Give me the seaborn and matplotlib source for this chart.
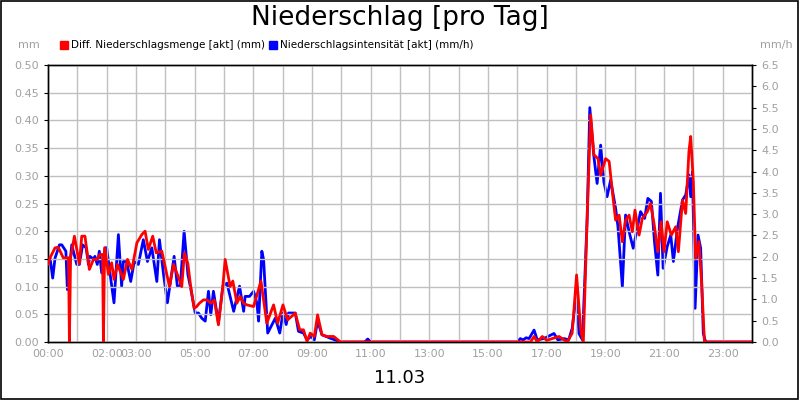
import matplotlib
matplotlib.use("Agg")
import matplotlib.pyplot as plt
import seaborn as sns
import pandas as pd

sns.set_style("white")
plt.rcParams['font.family'] = ['DejaVu Sans']
plt.rcParams['text.color'] = 'black'

# Diff. Niederschlagsmenge (mm) - hours of day
red_t = [0.0,0.07,0.24,0.35,0.52,0.64,0.70,0.73,0.77,0.90,1.07,1.15,1.26,1.41,1.55,1.68,1.77,1.86,1.89,1.93,2.06,2.17,2.25,2.37,2.57,2.71,2.86,3.03,3.20,3.31,3.42,3.57,3.69,3.88,4.14,4.28,4.41,4.56,4.65,4.77,4.85,4.98,5.07,5.16,5.30,5.42,5.55,5.67,5.81,5.96,6.04,6.21,6.30,6.44,6.55,6.67,6.78,7.01,7.26,7.46,7.69,7.83,8.01,8.17,8.43,8.58,8.71,8.83,8.94,9.08,9.19,9.34,9.51,9.74,9.97,
         16.45,16.57,16.68,16.85,17.0,17.42,17.70,17.87,18.02,18.16,18.25,18.38,18.50,18.61,18.75,18.84,19.01,19.13,19.24,19.35,19.47,19.58,19.69,19.81,19.92,20.01,20.15,20.26,20.43,20.54,20.66,20.79,20.90,21.00,21.11,21.25,21.40,21.49,21.63,21.74,21.85,21.91,22.00,22.08,22.19,22.28,22.38,24.0]
red_v = [0.14,0.152,0.170,0.171,0.152,0.152,0.152,0.0,0.152,0.191,0.141,0.191,0.191,0.131,0.149,0.149,0.158,0.158,0.0,0.170,0.122,0.143,0.113,0.140,0.113,0.149,0.131,0.179,0.194,0.200,0.167,0.191,0.161,0.164,0.100,0.140,0.122,0.100,0.161,0.141,0.106,0.061,0.064,0.070,0.076,0.076,0.070,0.076,0.031,0.100,0.149,0.100,0.110,0.070,0.082,0.070,0.067,0.064,0.110,0.034,0.067,0.034,0.067,0.040,0.052,0.022,0.022,0.001,0.016,0.010,0.049,0.013,0.010,0.010,0.0,
         0.0,0.01,0.0,0.01,0.003,0.01,0.0,0.016,0.121,0.022,0.0,0.223,0.41,0.338,0.331,0.301,0.331,0.326,0.271,0.22,0.229,0.181,0.22,0.229,0.199,0.238,0.193,0.223,0.235,0.25,0.214,0.163,0.217,0.163,0.217,0.193,0.208,0.163,0.256,0.232,0.344,0.371,0.289,0.151,0.181,0.109,0.0,0.0]

# Niederschlagsintensität (mm/h)
blue_t = [0.0,0.07,0.16,0.24,0.39,0.47,0.61,0.66,0.81,0.98,1.07,1.18,1.30,1.38,1.43,1.55,1.60,1.68,1.75,1.83,1.95,2.00,2.12,2.25,2.40,2.51,2.57,2.68,2.82,2.94,3.08,3.25,3.39,3.54,3.71,3.80,3.94,4.07,4.30,4.41,4.51,4.64,4.77,4.85,5.02,5.13,5.24,5.36,5.47,5.55,5.64,5.81,5.96,6.10,6.33,6.53,6.67,6.72,6.87,7.01,7.12,7.18,7.29,7.35,7.49,7.75,7.90,8.01,8.12,8.20,8.43,8.54,8.71,8.83,8.96,9.08,9.19,9.34,9.62,9.97,10.8,10.9,11.0,
          16.0,16.1,16.2,16.3,16.4,16.57,16.68,16.9,17.25,17.38,17.6,17.75,17.87,18.02,18.10,18.22,18.38,18.47,18.61,18.72,18.84,18.95,19.06,19.18,19.35,19.43,19.58,19.69,19.81,19.95,20.09,20.20,20.34,20.45,20.57,20.68,20.79,20.88,20.97,21.11,21.23,21.32,21.46,21.63,21.74,21.85,21.91,21.97,22.06,22.16,22.25,22.34,22.42,24.0]
blue_v = [1.9,1.97,1.50,1.97,2.28,2.28,2.13,1.23,2.28,1.82,1.82,2.28,2.21,1.82,2.01,1.94,2.01,1.82,2.13,1.62,2.21,2.21,1.58,0.92,2.52,1.31,1.89,1.89,1.42,1.89,1.82,2.40,1.89,2.21,1.42,2.40,1.58,0.92,2.01,1.31,1.31,2.60,1.58,1.31,0.68,0.68,0.56,0.49,1.19,0.64,1.19,0.45,1.31,1.38,0.72,1.31,0.72,1.07,1.07,1.19,0.92,0.49,2.13,1.93,0.21,0.56,0.21,0.68,0.41,0.68,0.68,0.25,0.21,0.05,0.13,0.05,0.49,0.17,0.09,0.0,0.0,0.07,0.0,
          0.0,0.08,0.05,0.1,0.08,0.28,0.05,0.08,0.2,0.05,0.08,0.05,0.32,1.18,0.2,0.05,2.9,5.5,4.35,3.72,4.62,3.76,3.41,3.8,3.14,2.71,1.30,2.98,2.59,2.2,2.67,3.06,2.9,3.37,3.3,2.32,1.57,3.49,1.73,2.24,2.51,1.89,2.67,3.33,3.45,3.92,3.41,4.0,0.79,2.51,2.2,0.2,0.0,0.0]

hour_ticks = list(range(0, 24))
shown = {0: "00:00", 2: "02:00", 3: "03:00", 5: "05:00", 7: "07:00", 9: "09:00", 11: "11:00",
         13: "13:00", 15: "15:00", 17: "17:00", 19: "19:00", 21: "21:00", 23: "23:00"}
left_ticks = [0.0,0.05,0.10,0.15,0.20,0.25,0.30,0.35,0.40,0.45,0.50]
right_ticks = [0.0,0.5,1.0,1.5,2.0,2.5,3.0,3.5,4.0,4.5,5.0,5.5,6.0,6.5]

red_df = pd.DataFrame({"t": red_t, "v": red_v})
blue_df = pd.DataFrame({"t": blue_t, "v": blue_v})

fig = plt.figure(figsize=(8, 4), dpi=100)
ax = fig.add_axes([0.06, 0.145, 0.88, 0.6925])
ax2 = ax.twinx()
grey = "#a0a0a0"

sns.lineplot(data=blue_df, x="t", y="v", ax=ax2, color="#0000ff", lw=2, sort=False)
sns.lineplot(data=red_df, x="t", y="v", ax=ax, color="#ff0000", lw=2, sort=False, zorder=3)
ax.set_zorder(ax2.get_zorder() + 1)
ax.patch.set_visible(False)

ax.set_xlim(0, 24)
ax.set_ylim(0, 0.5)
ax2.set_ylim(0, 6.5)
ax.set_xticks(hour_ticks)
ax.set_xticklabels([shown.get(h, "") for h in hour_ticks])
ax.set_yticks(left_ticks)
ax.set_yticklabels([f"{v:.2f}" for v in left_ticks])
ax2.set_yticks(right_ticks)
ax2.set_yticklabels([f"{v:.1f}" for v in right_ticks])
ax.grid(True, color="#c0c0c0", lw=1)
for a in (ax, ax2):
    a.set_xlabel(""); a.set_ylabel("")
    a.tick_params(labelsize=8, labelcolor=grey, length=3, color="black")
    for s in a.spines.values():
        s.set_color("black"); s.set_linewidth(1)
ax.tick_params(axis="x", pad=2, direction="out")
ax.text(-0.012, 1.06, "mm", transform=ax.transAxes, ha="right", fontsize=8, color=grey)
ax.text(1.012, 1.06, "mm/h", transform=ax.transAxes, ha="left", fontsize=8, color=grey)

fig.text(0.5, 0.955, "Niederschlag [pro Tag]", ha="center", va="center", fontsize=19, color="black")
fig.text(0.5, 0.055, "11.03", ha="center", va="center", fontsize=13, color="black")

# legend
fig.patches.append(plt.Rectangle((0.075, 0.877), 0.01, 0.02, transform=fig.transFigure, color="#ff0000"))
fig.text(0.089, 0.887, "Diff. Niederschlagsmenge [akt] (mm)", fontsize=7.5, va="center", color="black")
fig.patches.append(plt.Rectangle((0.336, 0.877), 0.01, 0.02, transform=fig.transFigure, color="#0000ff"))
fig.text(0.35, 0.887, "Niederschlagsintensität [akt] (mm/h)", fontsize=7.5, va="center", color="black")

fig.patches.append(plt.Rectangle((0.001, 0.002), 0.997, 0.995, transform=fig.transFigure,
                                 fill=False, edgecolor="black", lw=1.2))
fig.savefig("out.png", dpi=100)
